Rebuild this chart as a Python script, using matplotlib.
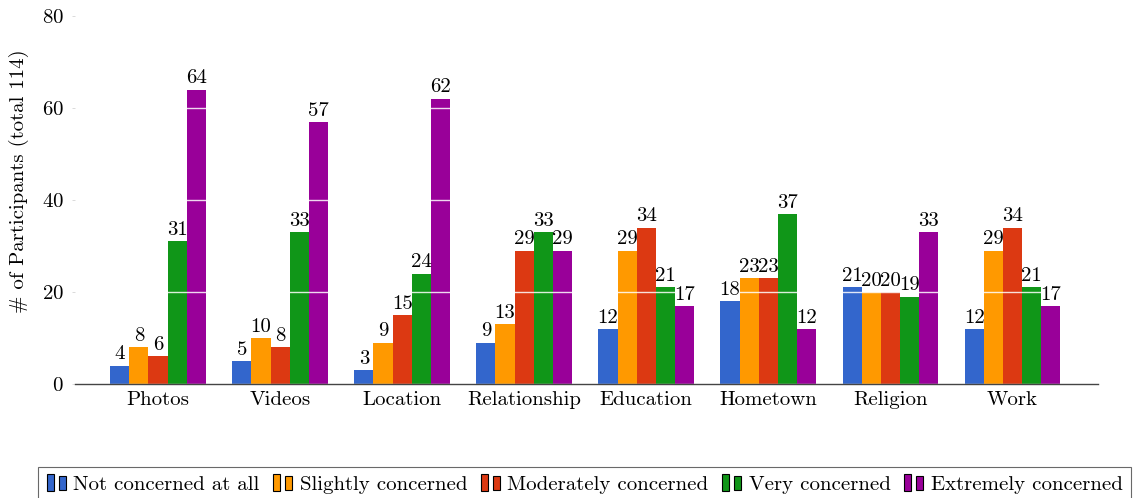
import matplotlib
matplotlib.use("Agg")
import matplotlib.pyplot as plt
import numpy as np
from matplotlib.patches import Rectangle
from matplotlib.legend_handler import HandlerBase

plt.rcParams['font.family'] = ['cmr10', 'DejaVu Serif']
plt.rcParams['mathtext.fontset'] = 'cm'
plt.rcParams['axes.formatter.use_mathtext'] = True

categories = ["Photos", "Videos", "Location", "Relationship", "Education", "Hometown", "Religion", "Work"]
series_names = ["Not concerned at all", "Slightly concerned", "Moderately concerned", "Very concerned", "Extremely concerned"]
not_concerned = [4, 5, 3, 9, 12, 18, 21, 12]
slightly = [8, 10, 9, 13, 29, 23, 20, 29]
moderately = [6, 8, 15, 29, 34, 23, 20, 34]
very = [31, 33, 24, 33, 21, 37, 19, 21]
extremely = [64, 57, 62, 29, 17, 12, 33, 17]
series = [not_concerned, slightly, moderately, very, extremely]
colors = ["#3366CC", "#FF9900", "#DC3912", "#109618", "#990099"]

fig = plt.figure(figsize=(11.33, 4.98), dpi=100)
ax = fig.add_axes([75/1133, 1-384/498, (1098-75)/1133, (384-16)/498])

x = np.arange(len(categories))
w = 0.157
for i, (vals, c, name) in enumerate(zip(series, colors, series_names)):
    pos = x + (i - 2) * w
    ax.bar(pos, vals, width=w, color=c, label=name, zorder=2, linewidth=0)
    for p, v in zip(pos, vals):
        ax.text(p, v + 0.5, str(v), ha='center', va='bottom', fontsize=15, zorder=4)

ax.set_ylim(0, 80)
ax.set_xlim(-0.68, 7.7)
ax.set_yticks([0, 20, 40, 60, 80])
ax.set_xticks(x)
ax.set_xticklabels(categories)
ax.tick_params(axis='both', labelsize=15)
ax.tick_params(axis='x', length=0, pad=5)
ax.tick_params(axis='y', length=2, width=0.5, color='#cccccc', pad=6)
for s in ['top', 'right', 'left']:
    ax.spines[s].set_visible(False)
ax.spines['bottom'].set_color('#444444')
ax.spines['bottom'].set_linewidth(1.0)
ax.spines['bottom'].set_zorder(5)
ax.yaxis.grid(True, color='white', alpha=0.85, linewidth=1.0, zorder=3)
ax.set_axisbelow(False)
ax.set_ylabel("# of Participants (total 114)", fontsize=15)
ax.yaxis.set_label_coords(-0.045, 0.552)


class DoubleBar(HandlerBase):
    def __init__(self, color):
        super().__init__()
        self.color = color

    def create_artists(self, legend, orig_handle, xdescent, ydescent, width, height, fontsize, trans):
        r1 = Rectangle((0.5 - xdescent, -ydescent - 1), width * 0.3, height * 1.2,
                       facecolor=self.color, edgecolor='black', linewidth=0.8, transform=trans)
        r2 = Rectangle((width * 0.55 - xdescent, -ydescent), width * 0.3, height * 0.95,
                       facecolor=self.color, edgecolor='black', linewidth=0.8, transform=trans)
        return [r1, r2]

handles = [Rectangle((0, 0), 1, 1, color=c) for c in colors]
leg = fig.legend(handles, series_names, loc='lower left',
                 bbox_to_anchor=(38/1133, -0.008, (1131-38)/1133, 0.1), mode='expand',
                 borderaxespad=0.0,
                 ncol=5, fontsize=15, frameon=True, fancybox=False, edgecolor='#444444',
                 handler_map={h: DoubleBar(c) for h, c in zip(handles, colors)},
                 handlelength=1.1, handletextpad=0.2, columnspacing=0.8, borderpad=0.4)
leg.get_frame().set_linewidth(0.8)

fig.savefig("out.png", dpi=100)
